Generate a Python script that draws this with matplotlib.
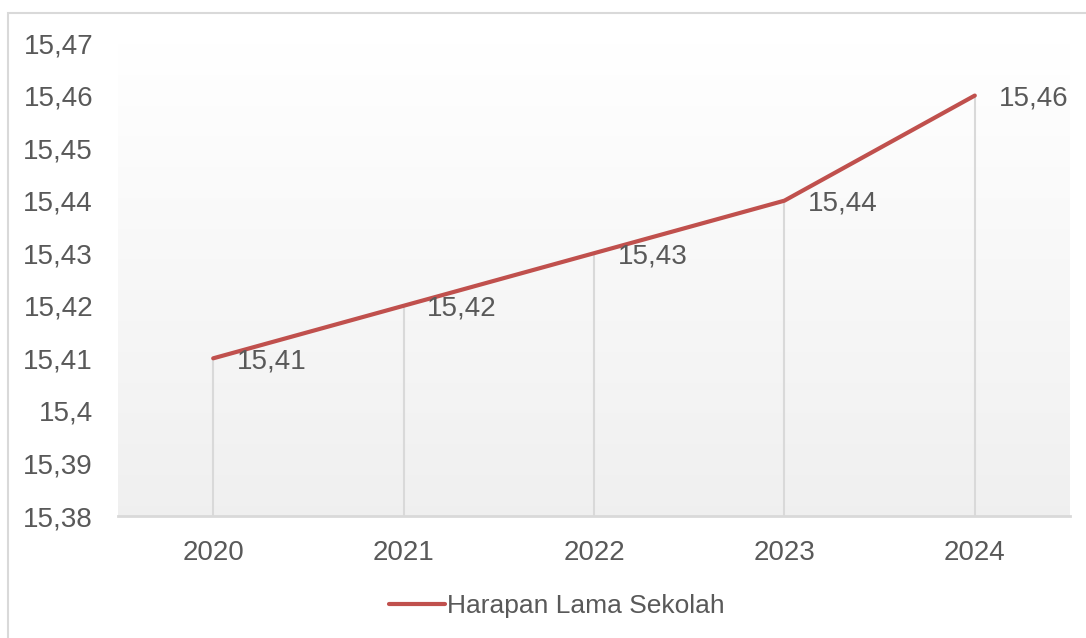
import numpy as np
import matplotlib.pyplot as plt
from matplotlib.patches import Rectangle

years = ["2020", "2021", "2022", "2023", "2024"]
hls = [15.41, 15.42, 15.43, 15.44, 15.46]
yticks = [15.38, 15.39, 15.40, 15.41, 15.42, 15.43, 15.44, 15.45, 15.46, 15.47]
ytick_labels = ["15,38", "15,39", "15,4", "15,41", "15,42", "15,43", "15,44", "15,45", "15,46", "15,47"]

plt.rcParams['font.family'] = ['Liberation Sans', 'DejaVu Sans']
txt = "#595959"
red = "#C0504D"

W, H = 1086, 638
fig = plt.figure(figsize=(W / 100, H / 100), dpi=100)
ax = fig.add_axes([118 / W, 1 - 516 / H, (1070 - 118) / W, (516 - 43) / H])

# outer chart border (only left and top visible in the crop)
fig.patches.append(Rectangle((7.5 / W, -0.05), 1.0, 1.05 - 13 / H,
                             transform=fig.transFigure, fill=False,
                             edgecolor="#D9D9D9", lw=1.5))

x = np.arange(len(years))
ax.set_xlim(-0.5, len(years) - 0.5)
ax.set_ylim(15.38, 15.47)

# gradient background (white top -> light gray bottom)
grad = np.linspace(1.0, 0.94, 256).reshape(-1, 1)
ax.imshow(np.dstack([grad, grad, grad]), extent=[0, 1, 0, 1], transform=ax.transAxes,
          aspect="auto", zorder=0)

# drop lines
ax.vlines(x, 15.38, hls, color="#D9D9D9", lw=1.5, zorder=1)

ax.plot(x, hls, color=red, lw=3, solid_capstyle="round", solid_joinstyle="round",
        label="Harapan Lama Sekolah", zorder=3)

for xi, v in zip(x, hls):
    ax.annotate(f"{v:.2f}".replace(".", ","), (xi, v), xytext=(17, -2),
                textcoords="offset points", ha="left", va="center",
                fontsize=20, color=txt, zorder=4)

ax.set_xticks(x)
ax.set_xticklabels(years)
ax.set_yticks(yticks)
ax.set_yticklabels(ytick_labels)
ax.tick_params(axis="both", length=0, labelsize=20, labelcolor=txt)
ax.tick_params(axis="x", pad=17)
ax.tick_params(axis="y", pad=18)

for s in ["top", "right", "left"]:
    ax.spines[s].set_visible(False)
ax.spines["bottom"].set_color("#D9D9D9")
ax.spines["bottom"].set_linewidth(2)

fig.legend(loc="center", bbox_to_anchor=(557 / W, 1 - 606 / H), frameon=False,
           fontsize=19, labelcolor=txt, handlelength=2.1, handletextpad=0.1)

fig.savefig("out.png", dpi=100, facecolor="white")
